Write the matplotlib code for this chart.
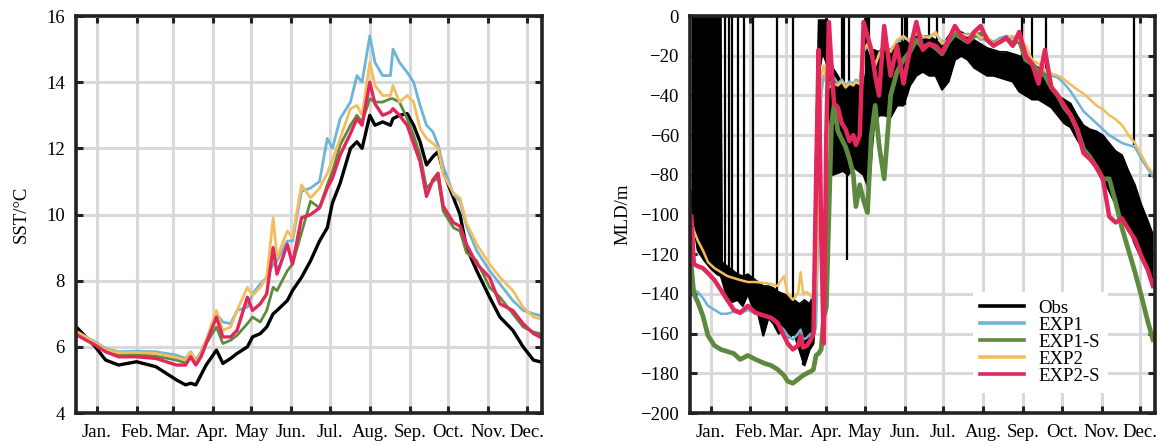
import numpy as np
import matplotlib
matplotlib.use('Agg')
import matplotlib.pyplot as plt

plt.rcParams['font.family'] = ['Liberation Serif', 'DejaVu Serif']
plt.rcParams['font.size'] = 13.5

# month ticks (day of year, mid month)
month_days = [15, 46, 74, 105, 135, 166, 196, 227, 258, 288, 319, 349]
month_labels = ['Jan.', 'Feb.', 'Mar.', 'Apr.', 'May', 'Jun.', 'Jul.', 'Aug.',
                'Sep.', 'Oct.', 'Nov.', 'Dec.']

names = ['Obs', 'EXP1', 'EXP1-S', 'EXP2', 'EXP2-S']
colors = ['#000000', '#6cb4d8', '#5d8a3e', '#f4bd5c', '#e2285a']

# ---------------- SST ----------------
sst_days = [0, 14, 22, 32, 46, 61, 77, 84, 88, 92,
            96, 100, 108, 113, 119, 124, 132, 136, 142, 147,
            152, 155, 163, 167, 174, 181, 188, 194, 198, 204,
            212, 217, 221, 227, 231, 237, 243, 245, 250, 256,
            261, 266, 271, 276, 280, 284, 292, 297, 302, 310,
            320, 328, 338, 346, 354, 359]

sst_obs = [6.57, 6.0, 5.6, 5.45, 5.55, 5.4, 5.0, 4.85, 4.9, 4.85,
           5.15, 5.45, 5.9, 5.5, 5.65, 5.8, 6.0, 6.3, 6.4, 6.6,
           7.0, 7.1, 7.4, 7.7, 8.1, 8.6, 9.2, 9.6, 10.35, 10.95,
           12.0, 12.2, 12.0, 13.0, 12.7, 12.8, 12.7, 12.9, 13.0, 13.05,
           12.7, 12.2, 11.5, 11.75, 11.9, 11.3, 10.5, 10.0, 9.0, 8.3,
           7.5, 6.9, 6.5, 6.0, 5.6, 5.55]

sst_exp1 = [6.45, 6.15, 5.95, 5.85, 5.87, 5.85, 5.75, 5.65, 5.85, 5.6,
            5.85, 6.2, 7.0, 6.75, 6.7, 7.1, 7.2, 7.6, 7.9, 8.1,
            8.5, 8.6, 9.2, 9.2, 10.7, 10.8, 11.0, 12.3, 12.0, 12.9,
            13.4, 14.2, 14.0, 15.4, 14.6, 14.2, 14.2, 15.0, 14.6, 14.3,
            14.0, 13.3, 12.7, 12.5, 12.1, 11.45, 10.6, 10.4, 9.65, 8.9,
            8.3, 7.9, 7.4, 7.1, 7.0, 6.95]

sst_exp1s = [6.4, 6.1, 5.9, 5.78, 5.78, 5.72, 5.6, 5.52, 5.7, 5.5,
             5.75, 6.1, 6.6, 6.1, 6.2, 6.35, 6.7, 6.9, 6.75, 7.1,
             7.8, 7.7, 8.3, 8.5, 9.45, 10.4, 10.2, 10.9, 11.3, 12.1,
             12.7, 13.0, 12.8, 13.5, 13.4, 13.4, 13.5, 13.5, 13.4, 12.9,
             12.4, 11.8, 10.8, 11.0, 11.1, 10.1, 9.6, 9.5, 8.85, 8.6,
             7.8, 7.5, 7.0, 6.6, 6.45, 6.4]

sst_exp2 = [6.45, 6.12, 5.92, 5.82, 5.83, 5.8, 5.68, 5.6, 5.85, 5.55,
            5.8, 6.2, 7.1, 6.5, 6.6, 7.1, 7.8, 7.55, 7.8, 8.1,
            9.9, 8.7, 9.5, 9.3, 10.9, 10.5, 10.8, 11.25, 11.65, 12.3,
            13.2, 13.3, 13.0, 14.6, 13.9, 13.6, 13.6, 13.9, 13.4, 13.6,
            13.4, 12.6, 12.3, 12.15, 12.0, 11.2, 10.65, 10.5, 9.75, 9.1,
            8.5, 8.1, 7.7, 7.2, 6.9, 6.85]

sst_exp2s = [6.35, 6.05, 5.85, 5.7, 5.7, 5.65, 5.45, 5.45, 5.7, 5.45,
             5.7, 6.1, 6.9, 6.3, 6.3, 6.5, 7.5, 7.1, 7.3, 7.6,
             9.0, 8.2, 9.1, 8.5, 9.9, 10.0, 10.2, 10.8, 11.1, 11.8,
             12.45, 12.9, 12.7, 14.0, 13.35, 13.0, 13.1, 13.2, 13.0, 12.7,
             12.15, 11.6, 10.55, 11.05, 11.25, 10.25, 9.75, 9.65, 9.1, 8.5,
             8.1, 7.3, 7.1, 6.7, 6.4, 6.3]

# ---------------- MLD ----------------
mld_days = [0, 2, 5, 9, 13, 18, 23, 28, 33, 38,
            44, 50, 57, 62, 67, 72, 75, 79, 83, 85,
            87, 90, 93, 95, 97, 99, 101, 103, 105, 107,
            109, 111, 114, 117, 120, 123, 126, 128, 131, 134,
            137, 140, 143, 146, 150, 155, 160, 165, 170, 175,
            180, 185, 190, 195, 200, 205, 210, 215, 220, 225,
            230, 235, 240, 245, 250, 255, 260, 265, 270, 275,
            280, 285, 290, 295, 300, 305, 310, 315, 320, 325,
            330, 335, 340, 345, 350, 355, 359]

mld_exp1 = [-135, -138, -139, -142, -146, -148, -150, -150, -149, -150,
            -148, -150, -151, -152, -155, -158, -161, -163, -160, -158,
            -163, -162, -160, -161, -157, -100, -40, -30, -33, -34,
            -33, -31, -34, -32, -35, -33, -34, -32, -33, -18,
            -15, -19, -24, -20, -16, -17, -13, -11, -12, -9,
            -11, -10, -9, -13, -12, -8, -10, -9, -9, -12,
            -11, -13, -11, -10, -11, -13, -17, -25, -27, -28,
            -30, -31, -34, -38, -43, -48, -51, -54, -57, -60,
            -62, -64, -65, -66, -72, -77, -81]

mld_exp1s = [-126, -140, -144, -151, -161, -166, -168, -169, -170, -173,
             -171, -173, -175, -176, -178, -181, -184, -185, -183, -182,
             -181, -180, -179, -178, -171, -170, -168, -151, -147, -100,
             -55, -45, -58, -62, -66, -72, -80, -96, -85, -93,
             -99, -60, -45, -65, -82, -40, -28, -22, -18, -12,
             -16, -14, -16, -19, -13, -9, -11, -13, -10, -9,
             -12, -14, -13, -11, -14, -12, -22, -24, -28, -30,
             -36, -40, -46, -50, -57, -67, -71, -76, -82, -82,
             -94, -107, -118, -129, -141, -154, -163]

mld_exp2 = [-102, -108, -113, -118, -124, -127, -129, -131, -132, -133,
            -134, -134, -134.5, -135, -136, -131, -140, -143, -139.5, -129,
            -140, -139, -141, -143, -138, -84, -30, -25, -33, -36,
            -35, -34, -35, -33, -36, -34, -35, -33, -34, -17,
            -14, -20, -25, -19, -15, -18, -12, -10, -13, -8,
            -10, -11, -8, -14, -12, -7, -9, -10, -8, -11,
            -10, -14, -12, -11, -10, -12, -15, -22, -24, -27,
            -29, -30, -32, -34.5, -37, -39, -42, -45, -47, -50,
            -52, -55, -60, -64, -70, -76, -79]

mld_exp2s = [-101, -125, -126, -127, -129.5, -133, -138, -143, -148, -149.5,
             -146, -149.5, -151, -152, -154.5, -161, -165, -168, -166, -161,
             -167, -166, -163, -160, -84, -17, -110, -165, -60, -3,
             -25, -44, -46, -54, -57, -63, -60, -65, -60, -3,
             -10, -17, -30, -40, -5, -30, -15, -34, -17, -3,
             -17, -14, -15, -18.5, -12, -5, -10, -13, -8, -5,
             -12, -15, -13, -11, -15, -8, -20, -24, -34, -17,
             -36, -40, -45, -50, -57, -69, -72, -76, -82, -101,
             -104, -102, -107.5, -112.5, -121, -128, -136]

# observed MLD is very noisy: kept as a band (shallow / deep edge of the daily scatter)
obs_days = [0, 1, 5, 10, 15, 20, 23, 24, 28, 32,
            36, 40, 44, 48, 52, 56, 60, 64, 68, 72,
            76, 80, 84, 88, 92, 95, 97, 99, 102, 106,
            110, 114, 118, 122, 126, 130, 134, 138, 142, 146,
            150, 155, 160, 165, 170, 175, 180, 185, 190, 195,
            200, 205, 210, 215, 220, 225, 230, 235, 240, 245,
            250, 255, 260, 265, 270, 275, 280, 285, 290, 295,
            300, 305, 310, 315, 320, 325, 330, 335, 340, 345,
            350, 355, 359]

obs_top = [0, 0, 0, 0, 0, 0, 0, -124, -126, -128,
           -130, -131, -130, -132, -134, -136, -136, -137, -139, -140,
           -141, -143, -145, -143, -145, -140, -60, -2, -2, -2,
           -26, -30, -35, -34, -34, -35, -35, -20, -17, -18,
           -15, -17, -14, -13, -12, -10, -10, -10, -12, -15,
           -10, -7, -8, -10, -12, -14, -16, -17, -18, -18,
           -19, -20, -22, -24, -26, -28, -35, -40, -42, -44,
           -50, -55, -57, -58, -60, -64, -68, -70, -78, -85,
           -95, -103, -110]

obs_bot = [-88, -100, -118, -123, -127, -130, -131, -133, -142, -144,
           -143, -146, -140, -147, -150, -161, -152, -155, -160, -157,
           -162, -160, -168, -176, -168, -165, -140, -30, -18, -25,
           -80, -79, -78, -80, -76, -78, -80, -87, -55, -50,
           -50, -51, -45, -45, -35, -30, -28, -30, -30, -37,
           -33, -22, -20, -22, -26, -28, -30, -30, -31, -32,
           -33, -38, -40, -42, -42, -44, -46, -50, -54, -56,
           -62, -67, -70, -77, -82, -88, -95, -104, -106, -115,
           -122, -128, -132]

# days where the obs MLD jumps up to the surface (or dips deep)
spike_days = [26, 29, 32, 36, 41, 48, 67, 79, 87,
              117, 119, 121, 123, 136, 137, 138, 164, 166, 168, 185, 191,
              257, 265, 276, 344]
spike_top = [0, 0, 0, 0, 0, 0, 0, 0, -150,
             0, 0, -60, 0, 0, 0, 0, 0, 0, 0, 0, 0,
             0, 0, 0, 0]
spike_low = [-128, -137, -140, -140, -142, -140, -150, -158, -176,
             -60, -70, -123, -55, -60, -55, -50, -40, -45, -40, -30, -30,
             -30, -35, -40, -65]


def style_axes(ax):
    ax.set_xlim(-1, 360.6)
    ax.set_xticks(month_days)
    ax.set_xticklabels(month_labels)
    ax.grid(True, color='#d9d9d9', lw=2.2)
    ax.set_axisbelow(True)
    ax.tick_params(direction='in', top=True, right=True, length=5, width=2.2,
                   color='#222222', pad=8, labelsize=13.5)
    for s in ax.spines.values():
        s.set_linewidth(2.6)
        s.set_color('#222222')


fig = plt.figure(figsize=(11.62, 4.44), dpi=100)
ax1 = fig.add_axes([0.0654, 0.0698, 0.401, 0.894])
ax2 = fig.add_axes([0.5938, 0.0698, 0.4002, 0.894])

# SST panel
sst_series = [sst_obs, sst_exp1, sst_exp1s, sst_exp2, sst_exp2s]
sst_lw = [2.4, 2.0, 2.0, 2.0, 2.4]
for vals, c, lw, n in zip(sst_series, colors, sst_lw, names):
    ax1.plot(sst_days, vals, color=c, lw=lw, label=n)
style_axes(ax1)
ax1.set_ylim(4, 16)
ax1.set_yticks(np.arange(4, 17, 2))
ax1.set_ylabel('SST/°C', fontsize=13.5, labelpad=12)

# MLD panel
ax2.fill_between(obs_days, obs_top, obs_bot, color='black', lw=0)
ax2.plot(obs_days, obs_top, color='black', lw=1.2)
ax2.plot(obs_days, obs_bot, color='black', lw=1.6, label='Obs')
ax2.vlines(spike_days, spike_low, spike_top, color='black', lw=1.6)
mld_series = [mld_exp1, mld_exp1s, mld_exp2, mld_exp2s]
mld_lw = [1.8, 3.4, 1.8, 3.2]
for vals, c, lw, n in zip(mld_series, colors[1:], mld_lw, names[1:]):
    ax2.plot(mld_days, vals, color=c, lw=lw, label=n)
style_axes(ax2)
ax2.set_ylim(-200, 0)
ax2.set_yticks(np.arange(-200, 1, 20))
ax2.set_ylabel('MLD/m', fontsize=13.5, labelpad=6)

leg = ax2.legend(loc='lower right', bbox_to_anchor=(0.918, 0.028), frameon=True,
                 fancybox=False, framealpha=1, edgecolor='none', fontsize=13.5,
                 labelspacing=0.0, handlelength=2.3, borderpad=0.4)
for h in leg.get_lines():
    h.set_linewidth(2.6)

fig.savefig('out.png', dpi=100)
